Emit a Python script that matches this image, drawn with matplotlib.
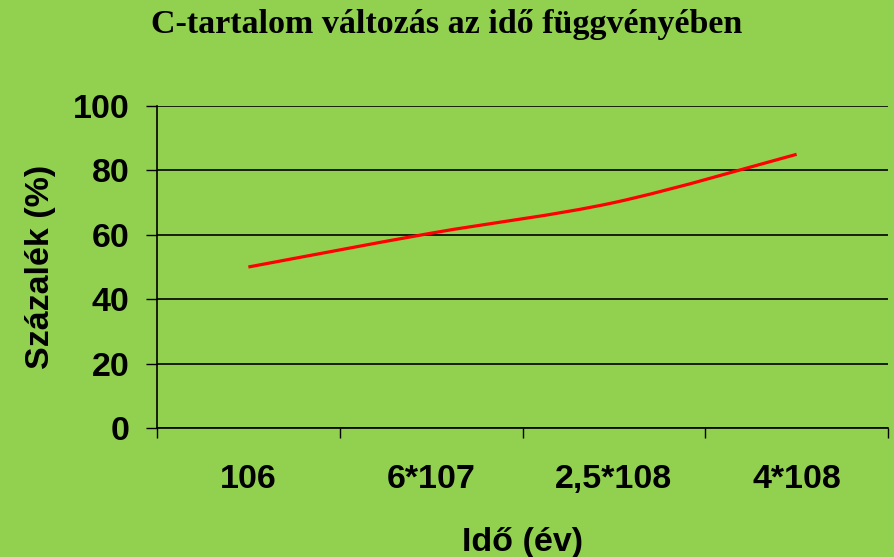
import matplotlib.pyplot as plt
from matplotlib.path import Path
from matplotlib.patches import PathPatch
import numpy as np

# Data
categories = ['106', '6*107', '2,5*108', '4*108']
percent = [50, 60.5, 70, 85]

title = 'C-tartalom változás az idő függvényében'
xlabel = 'Idő (év)'
ylabel = 'Százalék (%)'

bg = '#92D050'
fs = 24.5

fig = plt.figure(figsize=(8.94, 5.57), dpi=100, facecolor=bg)
ax = fig.add_axes([157 / 894, 1 - 428 / 557, (888 - 157) / 894, (428 - 106) / 557])
ax.set_facecolor(bg)

# smooth line (Excel style) through the data points using cubic Bezier segments
x = np.arange(len(percent), dtype=float)
y = np.array(percent, dtype=float)
verts = [(x[0], y[0])]
codes = [Path.MOVETO]
for i in range(len(x) - 1):
    p0 = (x[i - 1], y[i - 1]) if i > 0 else (x[i], y[i])
    p3 = (x[i + 2], y[i + 2]) if i + 2 < len(x) else (x[i + 1], y[i + 1])
    c1 = (x[i] + (x[i + 1] - p0[0]) / 6, y[i] + (y[i + 1] - p0[1]) / 6)
    c2 = (x[i + 1] - (p3[0] - x[i]) / 6, y[i + 1] - (p3[1] - y[i]) / 6)
    verts += [c1, c2, (x[i + 1], y[i + 1])]
    codes += [Path.CURVE4] * 3
ax.add_patch(PathPatch(Path(verts, codes), facecolor='none', edgecolor='#FF0000',
                       lw=2.3, capstyle='butt', zorder=3))

ax.set_xlim(-0.5, len(categories) - 0.5)
ax.set_ylim(0, 100)
ax.set_yticks(range(0, 101, 20))
ax.set_xticks(x)
ax.set_xticklabels(categories)
ax.set_xticks(np.arange(-0.5, len(categories), 1.0), minor=True)
ax.tick_params(axis='x', which='major', length=0, pad=26)
ax.tick_params(axis='x', which='minor', length=7, width=1, direction='out', color='black')
ax.tick_params(axis='y', length=8, width=1, direction='out', pad=12)
ax.yaxis.grid(True, color='black', lw=1.2)
ax.set_axisbelow(True)

for s in ['top', 'right']:
    ax.spines[s].set_visible(False)
for s in ['left', 'bottom']:
    ax.spines[s].set_color('black')
    ax.spines[s].set_linewidth(1.2)

for lbl in ax.get_xticklabels() + ax.get_yticklabels():
    lbl.set_fontfamily('Liberation Sans')
    lbl.set_fontweight('bold')
    lbl.set_fontsize(fs)

ax.set_xlabel(xlabel, fontfamily='Liberation Sans', fontweight='bold', fontsize=fs, labelpad=23)
ax.set_ylabel(ylabel, fontfamily='Liberation Sans', fontweight='bold', fontsize=fs, labelpad=12)
fig.text(0.5, 1 - 24 / 557, title, ha='center', va='center',
         fontfamily='Liberation Serif', fontweight='bold', fontsize=24.5)

fig.savefig('out.png', dpi=100, facecolor=bg)
